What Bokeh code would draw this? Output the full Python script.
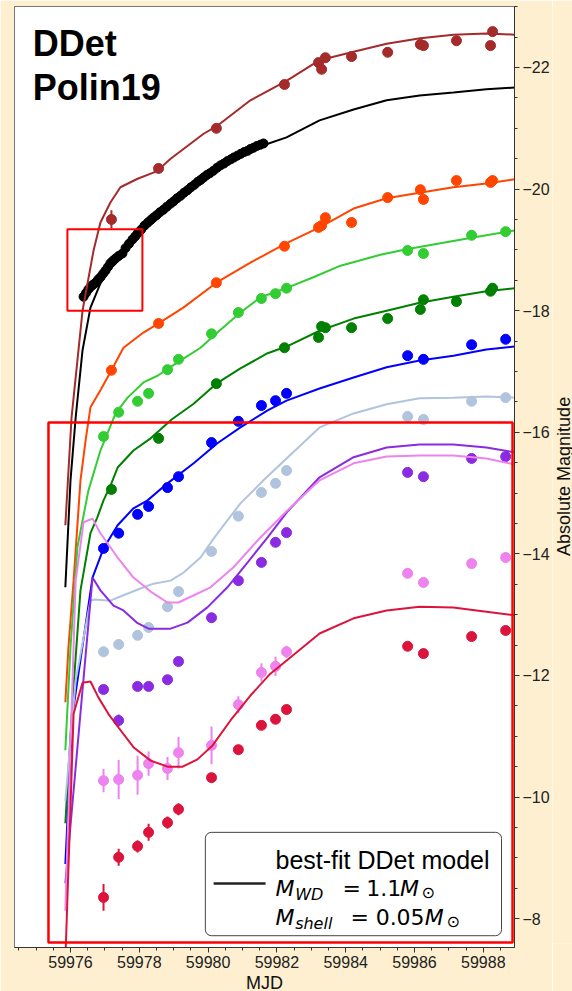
import math
from bokeh.plotting import figure
from bokeh.layouts import row
from bokeh.models import Range1d, FixedTicker, BoxAnnotation, Label, ColumnDataSource
from bokeh.embed import file_html
from bokeh.resources import INLINE

# ---------------- observation epochs (MJD) ----------------
epoch_a = [59976.96, 59977.40, 59977.95, 59978.27, 59978.82, 59979.14, 59980.10, 59980.88,
           59981.55, 59981.96, 59982.28, 59985.80, 59986.26, 59987.66, 59988.65]
epoch_b = [59977.19, 59978.56, 59980.24, 59982.22, 59983.21, 59983.30, 59983.41, 59984.17,
           59985.22, 59986.17, 59986.26, 59987.22, 59988.21, 59988.27]

# ---------------- observed magnitudes ----------------
brown_mag = [-19.50, -20.34, -21.00, -21.72, -22.08, -21.97, -22.16, -22.18, -22.25, -22.38, -22.36, -22.44, -22.36, -22.59]
brown_err = [0.15, 0, 0, 0, 0, 0, 0, 0, 0, 0, 0, 0, 0, 0]
orange_mag = [-17.02, -17.79, -18.46, -19.06, -19.37, -19.40, -19.53, -19.45, -19.86, -19.99, -19.83, -20.14, -20.11, -20.14]
green_mag = [-15.06, -15.90, -16.80, -17.39, -17.56, -17.74, -17.72, -17.72, -17.87, -18.02, -18.18, -18.15, -18.32, -18.37]

lime_mag = [-15.93, -16.33, -16.51, -16.64, -17.03, -17.20, -17.62, -17.97, -18.20, -18.28, -18.37, -18.99, -18.94, -19.24, -19.30]
blue_mag = [-14.09, -14.34, -14.65, -14.78, -15.09, -15.27, -15.83, -16.18, -16.44, -16.52, -16.64, -17.26, -17.20, -17.44, -17.53]
lsb_mag = [-12.39, -12.51, -12.66, -12.79, -13.13, -13.38, -14.04, -14.62, -15.01, -15.16, -15.37, -16.26, -16.21, -16.51, -16.57]
purple_mag = [-11.77, -11.26, -11.82, -11.82, -11.93, -12.23, -12.95, -13.56, -13.86, -14.19, -14.35, -15.34, -15.27, -15.57, -15.60]
purple_err = [0, 0.10, 0, 0, 0, 0, 0, 0, 0, 0, 0, 0, 0, 0, 0]
violet_mag = [-10.27, -10.29, -10.36, -10.55, -10.47, -10.73, -10.85, -11.52, -12.05, -12.15, -12.39, -13.68, -13.53, -13.84, -13.94]
violet_err = [0.19, 0.32, 0.32, 0.20, 0.19, 0.26, 0.31, 0.14, 0.15, 0.16, 0.10, 0.0, 0.0, 0.0, 0.0]
crimson_mag = [-8.35, -9.01, -9.19, -9.42, -9.58, -9.80, -10.32, -10.78, -11.18, -11.28, -11.44, -12.48, -12.36, -12.64, -12.74]
crimson_err = [0.22, 0.14, 0.10, 0.14, 0.10, 0.10, 0.0, 0.0, 0.0, 0.0, 0.0, 0.0, 0.0, 0.0, 0.0]

# high-cadence black light curve
black_mjd = [59976.38, 59976.45, 59976.52, 59976.60, 59976.66, 59976.73, 59976.80, 59976.87, 59976.95, 59977.02,
             59977.09, 59977.16, 59977.23, 59977.31, 59977.40, 59977.51, 59977.60, 59977.70, 59977.80, 59977.88,
             59977.95, 59978.05, 59978.15, 59978.25, 59978.33, 59978.41, 59978.50, 59978.60, 59978.70, 59978.80,
             59978.91, 59979.00, 59979.10, 59979.20, 59979.30, 59979.40, 59979.50, 59979.60, 59979.70, 59979.78,
             59979.87, 59979.96, 59980.05, 59980.15, 59980.26, 59980.36, 59980.46, 59980.56, 59980.66, 59980.75,
             59980.85, 59980.95, 59981.05, 59981.15, 59981.23, 59981.32, 59981.42, 59981.52, 59981.61]
black_mag = [-18.23, -18.29, -18.35, -18.40, -18.43, -18.46, -18.51, -18.55, -18.61, -18.66,
             -18.72, -18.78, -18.82, -18.86, -18.90, -18.94, -19.03, -19.10, -19.17, -19.22,
             -19.27, -19.33, -19.40, -19.45, -19.49, -19.53, -19.57, -19.62, -19.66, -19.71,
             -19.76, -19.80, -19.85, -19.89, -19.94, -19.98, -20.03, -20.07, -20.12, -20.15,
             -20.19, -20.23, -20.26, -20.30, -20.35, -20.39, -20.42, -20.46, -20.49, -20.52,
             -20.55, -20.58, -20.61, -20.63, -20.66, -20.68, -20.71, -20.73, -20.75]

# ---------------- model curves ----------------
brown_mod_mjd = [59975.85, 59976.03, 59976.35, 59976.67, 59976.87, 59977.16, 59977.45, 59977.95, 59978.41, 59978.56,
                 59978.91, 59979.87, 59980.24, 59981.23, 59982.28, 59983.24, 59984.23, 59985.19, 59986.17, 59987.13,
                 59988.09, 59988.91]
brown_mod_mag = [-14.47, -16.24, -18.00, -18.99, -19.45, -19.78, -20.03, -20.17, -20.27, -20.32,
                 -20.50, -20.91, -21.03, -21.46, -21.78, -22.12, -22.26, -22.39, -22.48, -22.54,
                 -22.56, -22.54]
black_mod_mjd = [59975.85, 59976.00, 59976.15, 59976.35, 59976.58, 59976.87, 59977.16, 59977.51, 59977.95, 59978.41,
                 59978.91, 59979.40, 59979.87, 59980.36, 59980.85, 59981.32, 59981.61, 59982.28, 59983.24, 59984.23,
                 59985.19, 59986.15, 59987.13, 59988.09, 59988.91]
black_mod_mag = [-13.45, -15.21, -16.24, -17.35, -18.05, -18.45, -18.69, -18.89, -19.20, -19.47,
                 -19.71, -19.94, -20.14, -20.34, -20.52, -20.65, -20.72, -20.85, -21.13, -21.31,
                 -21.46, -21.54, -21.59, -21.64, -21.67]
orange_mod_mjd = [59975.85, 59975.94, 59976.09, 59976.29, 59976.44, 59976.58, 59976.87, 59977.19, 59977.54, 59978.12,
                  59978.56, 59979.28, 59980.24, 59981.23, 59982.28, 59983.27, 59984.23, 59985.19, 59986.15, 59987.13,
                  59988.09, 59988.91]
orange_mod_mag = [-11.56, -12.46, -13.56, -15.21, -15.87, -16.41, -16.69, -17.02, -17.39, -17.64,
                  -17.79, -18.05, -18.46, -18.79, -19.11, -19.38, -19.68, -19.85, -19.94, -20.03,
                  -20.09, -20.16]
lime_mod_mjd = [59975.85, 59976.00, 59976.20, 59976.52, 59976.87, 59977.31, 59977.66, 59978.12, 59978.53, 59979.11,
                59979.78, 59980.27, 59980.94, 59981.52, 59982.31, 59983.06, 59983.85, 59985.01, 59985.77, 59987.66,
                59988.91]
lime_mod_mag = [-10.77, -12.46, -14.11, -15.04, -15.70, -16.31, -16.57, -16.82, -16.93, -17.15,
                -17.39, -17.64, -17.97, -18.22, -18.38, -18.55, -18.74, -18.92, -19.01, -19.20,
                -19.32]
green_mod_mjd = [59975.85, 59976.06, 59976.29, 59976.58, 59976.78, 59976.96, 59977.16, 59977.37, 59977.83, 59978.33,
                 59978.94, 59979.58, 59980.24, 59980.94, 59981.73, 59982.28, 59983.24, 59984.23, 59985.19, 59986.15,
                 59987.13, 59988.09, 59988.91]
green_mod_mag = [-9.57, -11.59, -13.40, -14.34, -14.60, -14.88, -15.12, -15.42, -15.70, -15.90,
                 -16.21, -16.47, -16.80, -17.05, -17.30, -17.41, -17.67, -17.87, -18.00, -18.13,
                 -18.23, -18.32, -18.37]
blue_mod_mjd = [59975.85, 59976.06, 59976.64, 59976.96, 59977.37, 59977.83, 59978.24, 59978.82, 59979.58, 59980.27,
                59980.94, 59981.73, 59982.28, 59983.24, 59984.23, 59985.19, 59986.15, 59987.13, 59988.09, 59988.91]
blue_mod_mag = [-8.90, -11.37, -13.61, -14.09, -14.47, -14.75, -14.88, -15.16, -15.49, -15.82,
                -16.08, -16.36, -16.52, -16.72, -16.90, -17.07, -17.18, -17.26, -17.36, -17.41]
lsb_mod_mjd = [59975.85, 59976.15, 59976.58, 59976.70, 59977.16, 59977.54, 59978.03, 59978.41, 59978.91, 59979.28,
               59979.78, 59980.16, 59980.56, 59980.94, 59981.61, 59982.28, 59983.24, 59984.23, 59985.19, 59986.15,
               59987.13, 59988.09, 59988.91]
lsb_mod_mag = [-9.94, -11.92, -13.23, -13.25, -13.23, -13.32, -13.43, -13.51, -13.56, -13.69,
               -13.94, -14.25, -14.55, -14.83, -15.21, -15.57, -16.08, -16.31, -16.46, -16.56,
               -16.57, -16.59, -16.57]
purple_mod_mjd = [59975.85, 59976.64, 59976.87, 59977.25, 59977.54, 59977.95, 59978.27, 59978.91, 59979.40, 59979.98,
                  59980.56, 59981.15, 59981.73, 59982.28, 59983.24, 59984.23, 59985.19, 59986.15, 59987.13, 59988.09,
                  59988.91]
purple_mod_mag = [-8.58, -13.61, -13.40, -13.15, -13.07, -12.86, -12.77, -12.77, -12.87, -13.12,
                  -13.45, -13.86, -14.27, -14.68, -15.26, -15.59, -15.75, -15.80, -15.80, -15.75,
                  -15.67]
violet_mod_mjd = [59975.85, 59976.15, 59976.38, 59976.64, 59976.87, 59977.37, 59977.83, 59978.33, 59978.82, 59979.14,
                  59979.40, 59980.07, 59980.74, 59981.52, 59982.28, 59983.24, 59984.23, 59985.19, 59986.15, 59987.13,
                  59988.09, 59988.91]
violet_mod_mag = [-8.13, -13.56, -14.52, -14.58, -14.34, -13.94, -13.61, -13.38, -13.20, -13.20,
                  -13.27, -13.45, -13.78, -14.27, -14.70, -15.21, -15.49, -15.60, -15.62, -15.62,
                  -15.57, -15.47]
crimson_mod_mjd = [59975.85, 59976.09, 59976.35, 59976.58, 59976.81, 59977.10, 59977.40, 59977.83, 59978.33, 59978.82,
                   59979.26, 59979.69, 59980.13, 59980.65, 59981.23, 59981.81, 59982.40, 59983.24, 59984.23, 59985.19,
                   59986.15, 59987.13, 59988.09, 59988.91]
crimson_mod_mag = [-7.30, -11.37, -11.88, -11.90, -11.64, -11.37, -11.14, -10.82, -10.60, -10.50,
                   -10.50, -10.62, -10.85, -11.26, -11.67, -12.03, -12.30, -12.69, -12.94, -13.07,
                   -13.13, -13.12, -13.05, -12.99]

x_ticks = [59976, 59978, 59980, 59982, 59984, 59986, 59988]
y_ticks = [-22, -20, -18, -16, -14, -12, -10, -8]

# ---------------- figure ----------------
BG = "#FDEFCF"
FONT = "Liberation Sans"
p = figure(frame_width=500, frame_height=941,
           x_range=Range1d(59974.372, 59988.907), y_range=Range1d(-7.526, -23.003),
           y_axis_location="right", output_backend="svg", toolbar_location=None,
           min_border_left=14, min_border_top=6, min_border_right=36, min_border_bottom=2,
           background_fill_color="white", border_fill_color=BG,
           outline_line_color="#777777", outline_line_width=1)
p.grid.visible = False

p.xaxis.ticker = FixedTicker(ticks=x_ticks, minor_ticks=[59974.5 + 0.5 * i for i in range(30)])
p.yaxis.ticker = FixedTicker(ticks=y_ticks, minor_ticks=[-23.0 + 0.5 * i for i in range(32)])
p.xaxis.major_label_overrides = {float(t): str(t) for t in x_ticks}
p.yaxis.major_label_overrides = {float(t): "\u2212" + str(-t) for t in y_ticks}
for ax in (p.xaxis[0], p.yaxis[0]):
    ax.major_tick_in = 0
    ax.major_tick_out = 5
    ax.minor_tick_in = 0
    ax.minor_tick_out = 3
    ax.axis_line_color = "#333333"
    ax.major_tick_line_color = "#333333"
    ax.minor_tick_line_color = "#333333"
    ax.major_label_text_font = FONT
    ax.major_label_text_font_size = "16px"
    ax.major_label_text_color = "#222222"
    ax.axis_label_text_font = FONT
    ax.axis_label_text_font_size = "18px"
    ax.axis_label_text_font_style = "normal"
    ax.axis_label_text_color = "#111111"
    ax.major_label_standoff = 3
    ax.axis_label_standoff = 2
p.xaxis.axis_label = "MJD"

bands = [
    ("brown", "#A52A2A", epoch_b, brown_mag, brown_err, brown_mod_mjd, brown_mod_mag),
    ("orange", "#FF4500", epoch_b, orange_mag, None, orange_mod_mjd, orange_mod_mag),
    ("lime", "#32CD32", epoch_a, lime_mag, None, lime_mod_mjd, lime_mod_mag),
    ("green", "#008000", epoch_b, green_mag, None, green_mod_mjd, green_mod_mag),
    ("blue", "#0000FF", epoch_a, blue_mag, None, blue_mod_mjd, blue_mod_mag),
    ("lsb", "#B0C4DE", epoch_a, lsb_mag, None, lsb_mod_mjd, lsb_mod_mag),
    ("purple", "#8A2BE2", epoch_a, purple_mag, purple_err, purple_mod_mjd, purple_mod_mag),
    ("violet", "#EE82EE", epoch_a, violet_mag, violet_err, violet_mod_mjd, violet_mod_mag),
    ("crimson", "#DC143C", epoch_a, crimson_mag, crimson_err, crimson_mod_mjd, crimson_mod_mag),
]

# legend frame sits beneath the glyphs (no data overlaps it)
p.add_layout(BoxAnnotation(left=59979.92, right=59988.53, top=-9.42, bottom=-7.72,
                           fill_color="white", fill_alpha=1.0, line_color="#444444", line_alpha=1.0,
                           line_width=1, border_radius=6, level="underlay"))

# black light curve and model
p.line(black_mod_mjd, black_mod_mag, line_color="black", line_width=2)
p.scatter(black_mjd, black_mag, size=9, color="black")

for name, col, ep, mag, err, mmjd, mmag in bands:
    p.line(mmjd, mmag, line_color=col, line_width=2)
    if err is not None:
        src = ColumnDataSource(dict(x=ep, y0=[m - e for m, e in zip(mag, err)],
                                    y1=[m + e for m, e in zip(mag, err)]))
        p.segment(x0="x", y0="y0", x1="x", y1="y1", source=src, line_color=col, line_width=2)
    p.scatter(ep, mag, size=10, color=col)

# title text
for txt, yy in (("DDet", -22.39), ("Polin19", -21.67)):
    p.add_layout(Label(x=59974.90, y=yy, text=txt, text_font=FONT, text_font_size="36px",
                       text_font_style="bold", text_color="black", text_baseline="alphabetic"))

# red highlight boxes
p.add_layout(BoxAnnotation(left=59975.91, right=59978.09, top=-19.34, bottom=-18.00,
                           fill_alpha=0, line_color="red", line_alpha=1.0, line_width=2))
p.add_layout(BoxAnnotation(left=59975.36, right=59988.85, top=-16.16, bottom=-7.61,
                           fill_alpha=0, line_color="red", line_alpha=1.0, line_width=2.5))

# legend swatch
leg_x = [59980.16, 59981.67]
leg_y = [-8.58, -8.58]
p.line(leg_x, leg_y, line_color="#222222", line_width=2.5)

def lab(x, y, t, size, font=FONT, style="normal"):
    p.add_layout(Label(x=x, y=y, text=t, text_font=font, text_font_size=size,
                       text_font_style=style, text_color="black", text_baseline="alphabetic"))

lab(59981.96, -8.96, "best-fit DDet model", "25px")
lab(59981.96, -8.50, "M", "22px", "DejaVu Sans", "italic")
lab(59982.53, -8.40, "WD", "16px", "DejaVu Sans", "italic")
lab(59983.91, -8.50, "=", "22px", "DejaVu Sans")
lab(59984.60, -8.50, "1.1", "22px", "DejaVu Sans")
lab(59985.58, -8.50, "M", "22px", "DejaVu Sans", "italic")
lab(59986.20, -8.43, "\u2299", "16px", "DejaVu Sans")
lab(59981.96, -8.02, "M", "22px", "DejaVu Sans", "italic")
lab(59982.53, -7.92, "shell", "16px", "DejaVu Sans", "italic")
lab(59984.14, -8.02, "=", "22px", "DejaVu Sans")
lab(59984.87, -8.02, "0.05", "22px", "DejaVu Sans")
lab(59986.30, -8.02, "M", "22px", "DejaVu Sans", "italic")
lab(59986.93, -7.95, "\u2299", "16px", "DejaVu Sans")

# narrow strip on the right carrying the y-axis title, reading bottom-to-top
strip = figure(width=22, height=991, x_range=Range1d(0, 1), y_range=Range1d(0, 991),
               output_backend="svg", toolbar_location=None, min_border=0,
               background_fill_color=BG, border_fill_color=BG, outline_line_color=None)
strip.axis.visible = False
strip.grid.visible = False
strip.add_layout(Label(x=0.5, y=494, text="Absolute Magnitude", angle=math.pi / 2,
                       text_align="center", text_baseline="middle", text_font=FONT,
                       text_font_size="18px", text_color="#111111"))

open("out.html", "w").write(file_html(row(p, strip), INLINE))
